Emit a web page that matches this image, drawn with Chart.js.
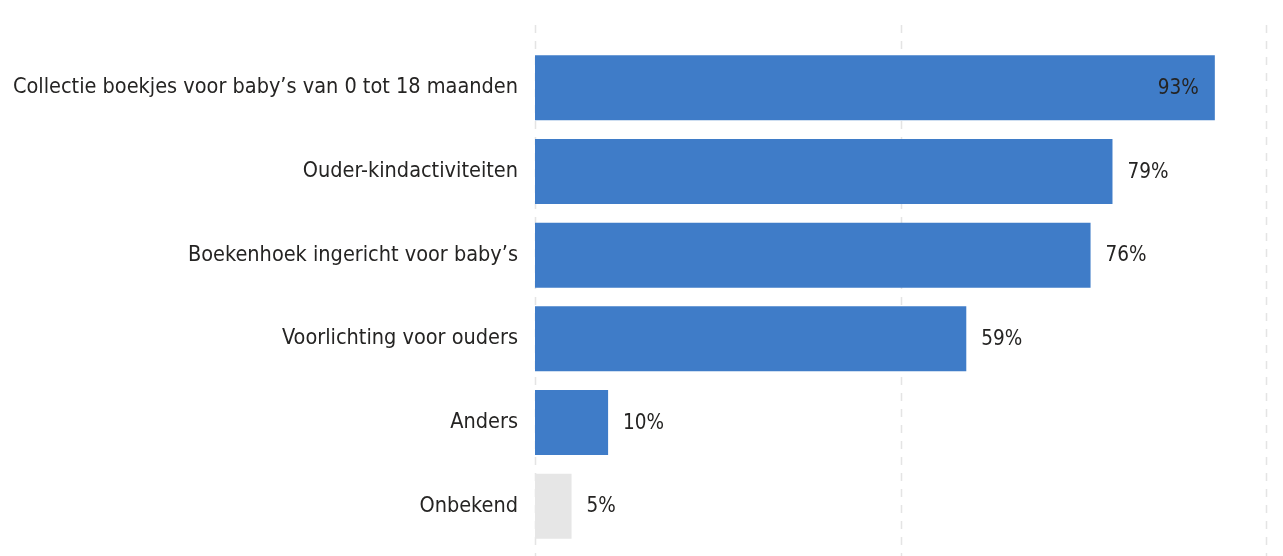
<!DOCTYPE html>
<html>
<head>
<meta charset="utf-8">
<script src="https://cdn.jsdelivr.net/npm/chart.js@4/dist/chart.umd.min.js"></script>
<style>
  html, body { margin: 0; padding: 0; background: #fff; }
  #wrap { width: 1283px; height: 556px; }
</style>
</head>
<body>
<div id="wrap"><canvas id="voorzieningen"></canvas></div>
<script>
const categories = [
    "Collectie boekjes voor baby’s van 0 tot 18 maanden",
    'Ouder-kindactiviteiten',
    "Boekenhoek ingericht voor baby’s",
    'Voorlichting voor ouders',
    'Anders',
    'Onbekend'
]
const percentages = [93, 79, 76, 59, 10, 5]
const barColors = ['#3f7cc8', '#3f7cc8', '#3f7cc8', '#3f7cc8', '#3f7cc8', '#e6e6e6']
const gridValues = [0, 50, 100]

const FONT = '"DejaVu Sans Condensed", "DejaVu Sans", sans-serif'
const TEXT = '#252423'

// dashed vertical gridlines, running past the plot area like the original report
const dashedGrid = {
    id: 'dashedGrid',
    beforeDatasetsDraw(chart) {
        const {ctx, scales: {x}} = chart
        ctx.save()
        ctx.strokeStyle = '#e4e4e4'
        ctx.lineWidth = 1.5
        ctx.setLineDash([8, 8])
        gridValues.forEach(v => {
            const px = Math.round(x.getPixelForValue(v)) + 0.5
            ctx.beginPath()
            ctx.moveTo(px, 25)
            ctx.lineTo(px, chart.height)
            ctx.stroke()
        })
        ctx.restore()
    }
}

// value labels: inside the bar when it nearly fills the axis, otherwise after it
const valueLabels = {
    id: 'valueLabels',
    afterDatasetsDraw(chart) {
        const {ctx} = chart
        const meta = chart.getDatasetMeta(0)
        ctx.save()
        ctx.font = '20.5px ' + FONT
        ctx.fillStyle = TEXT
        ctx.textBaseline = 'middle'
        meta.data.forEach((bar, i) => {
            const text = percentages[i] + '%'
            if (percentages[i] > 90) {
                ctx.textAlign = 'right'
                ctx.fillText(text, bar.x - 16, bar.y + 1)
            } else {
                ctx.textAlign = 'left'
                ctx.fillText(text, bar.x + 15, bar.y + 1)
            }
        })
        ctx.restore()
    }
}

new Chart(document.getElementById('voorzieningen'), {
    type: 'bar',
    data: {
        labels: categories,
        datasets: [{
            data: percentages,
            backgroundColor: barColors,
            borderWidth: 0,
            barPercentage: 0.776,
            categoryPercentage: 1
        }]
    },
    options: {
        indexAxis: 'y',
        responsive: true,
        maintainAspectRatio: false,
        animation: false,
        layout: {padding: {top: 46, bottom: 8, right: 17, left: 0}},
        plugins: {
            legend: {display: false},
            tooltip: {enabled: false}
        },
        scales: {
            x: {
                display: false,
                min: 0,
                max: 100
            },
            y: {
                grid: {display: false},
                border: {display: false},
                ticks: {
                    color: TEXT,
                    padding: 9,
                    font: {family: FONT, size: 21.5}
                },
                afterFit(scale) {
                    scale.width = 535
                    // labels sit in the middle of each band, no extra edge room needed
                    scale.paddingTop = 0
                    scale.paddingBottom = 0
                }
            }
        }
    },
    plugins: [dashedGrid, valueLabels]
})
</script>
</body>
</html>
